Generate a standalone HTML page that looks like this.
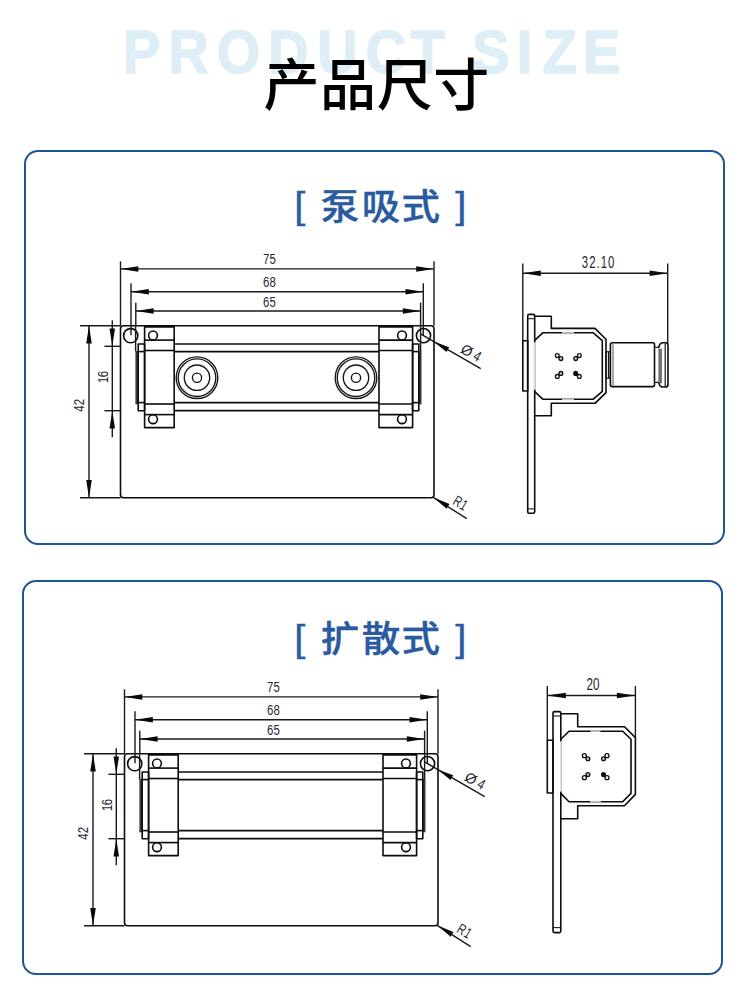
<!DOCTYPE html>
<html lang="zh-CN">
<head>
<meta charset="utf-8">
<title>产品尺寸 PRODUCT SIZE</title>
<style>
html,body{margin:0;padding:0;background:#fff;}
body{width:750px;height:996px;overflow:hidden;position:relative;font-family:"Liberation Sans","Noto Sans CJK SC",sans-serif;}
svg{position:absolute;left:0;top:0;display:block;}
.bg{font-family:"Liberation Sans",sans-serif;font-weight:700;fill:#ddeef6;stroke:#ddeef6;stroke-width:1.6px;}
.h1{font-family:"Liberation Sans","Noto Sans CJK SC",sans-serif;font-weight:500;fill:#000;}
.h2{font-family:"Liberation Sans","Noto Sans CJK SC",sans-serif;font-weight:500;fill:#2a5a9f;stroke:#2a5a9f;stroke-width:0.35px;}
.panel{fill:#fff;stroke:#1e5399;stroke-width:2;}
.o{fill:none;stroke:#0c0c0c;stroke-width:1.6;stroke-linejoin:round;}
.o2{fill:none;stroke:#1c1c1c;stroke-width:1.1;}
.o3{fill:none;stroke:#141414;stroke-width:1.35;}
.o4{fill:none;stroke:#555;stroke-width:1;}
.o5{fill:none;stroke:#141414;stroke-width:1.2;}
.tp{fill:none;stroke:#383838;stroke-width:2.8;}
.gl{fill:none;stroke:#c4c4c4;stroke-width:1.7;}
.gl2{fill:none;stroke:#a8a8a8;stroke-width:1;}
.wl{fill:none;stroke:#fff;stroke-width:2.4;}
.d{fill:none;stroke:#1a1a1a;stroke-width:1.4;}
.a{fill:#0a0a0a;stroke:none;}
.p{fill:#fff;stroke:#0c0c0c;stroke-width:1.3;}
.pg{fill:#c8c8c8;stroke:#0c0c0c;stroke-width:1.3;}
.pf{fill:#0c0c0c;stroke:#0c0c0c;stroke-width:1.3;}
.t{font-family:"Liberation Sans",sans-serif;fill:#26262e;}
</style>
</head>
<body>
<svg width="750" height="996" viewBox="0 0 750 996">
<rect width="750" height="996" fill="#fff"/>
<g transform="scale(0.9,1)"><text class="bg" y="72.8" font-size="62" x="136.6 187.3 240.9 298.2 352.6 406.4 456.0 486.0 524.6 574.2 602.7 647.9">PRODUCT SIZE</text></g>
<text class="h1" x="263.5" y="105" font-size="56" letter-spacing="0.6">产品尺寸</text>
<rect class="panel" x="25" y="151" width="699" height="393" rx="13"/>
<rect class="panel" x="23" y="581" width="699" height="393" rx="13"/>
<g transform="scale(1.07,1)">
<text class="h2" y="219.7" font-size="36" x="275 285 299.7 338 375.3 412 425.5"><tspan font-size="37.5" dy="-1.3">[</tspan><tspan dy="1.3"> 泵吸式 </tspan><tspan font-size="37.5" dy="-1.3">]</tspan></text>
<text class="h2" y="651.9" font-size="36" x="275 285 299.7 338 375.3 412 425.5"><tspan font-size="37.5" dy="-1.3">[</tspan><tspan dy="1.3"> 扩散式 </tspan><tspan font-size="37.5" dy="-1.3">]</tspan></text>
</g>

<g transform="translate(0,0.3)">
<rect class="o" x="120.5" y="325.5" width="313.5" height="172.0" rx="3"/>
<line class="d" x1="120.5" y1="261.0" x2="120.5" y2="325.5"/>
<line class="d" x1="434.0" y1="261.0" x2="434.0" y2="325.5"/>
<line class="d" x1="120.5" y1="268.6" x2="434.0" y2="268.6"/>
<polygon class="a" points="120.5,268.6 138.3,271.4 138.3,265.9"/>
<polygon class="a" points="434.0,268.6 416.2,265.9 416.2,271.4"/>
<text class="t" transform="translate(269.4,264.1) scale(0.74,1)" font-size="15.4" letter-spacing="0" text-anchor="middle">75</text>
<line class="d" x1="131.0" y1="283.0" x2="131.0" y2="335.0"/>
<line class="d" x1="423.3" y1="283.0" x2="423.3" y2="335.0"/>
<line class="d" x1="131.0" y1="291.4" x2="423.3" y2="291.4"/>
<polygon class="a" points="131.0,291.4 148.8,294.1 148.8,288.6"/>
<polygon class="a" points="423.3,291.4 405.5,288.6 405.5,294.1"/>
<text class="t" transform="translate(269.4,286.8) scale(0.74,1)" font-size="15.4" letter-spacing="0" text-anchor="middle">68</text>
<line class="d" x1="135.8" y1="302.4" x2="135.8" y2="326.0"/>
<line class="d" x1="420.6" y1="302.4" x2="420.6" y2="326.0"/>
<line class="d" x1="135.8" y1="310.7" x2="420.6" y2="310.7"/>
<polygon class="a" points="135.8,310.7 153.6,313.4 153.6,307.9"/>
<polygon class="a" points="420.6,310.7 402.8,307.9 402.8,313.4"/>
<text class="t" transform="translate(269.4,306.2) scale(0.74,1)" font-size="15.4" letter-spacing="0" text-anchor="middle">65</text>
<line class="d" x1="80.0" y1="325.5" x2="120.5" y2="325.5"/>
<line class="d" x1="80.0" y1="497.5" x2="120.5" y2="497.5"/>
<line class="d" x1="89.0" y1="325.5" x2="89.0" y2="497.5"/>
<polygon class="a" points="89.0,325.5 86.2,343.3 91.8,343.3"/>
<polygon class="a" points="89.0,497.5 91.8,479.7 86.2,479.7"/>
<text class="t" transform="translate(84.3,405.0) rotate(-90) scale(0.74,1)" font-size="15.4" letter-spacing="0" text-anchor="middle">42</text>
<line class="d" x1="104.4" y1="346.0" x2="120.5" y2="346.0"/>
<line class="d" x1="104.4" y1="410.4" x2="120.5" y2="410.4"/>
<line class="d" x1="112.3" y1="320.0" x2="112.3" y2="437.0"/>
<polygon class="a" points="112.3,346.0 115.0,328.2 109.5,328.2"/>
<polygon class="a" points="112.3,410.4 109.5,428.2 115.0,428.2"/>
<text class="t" transform="translate(107.9,377.0) rotate(-90) scale(0.74,1)" font-size="15.4" letter-spacing="-0.7" text-anchor="middle">16</text>
<circle class="o" cx="130.7" cy="335.4" r="7.1"/>
<circle class="o" cx="423.5" cy="335.3" r="7.1"/>
<line class="d" x1="135.6" y1="326.0" x2="135.6" y2="351.0"/>
<line class="tp" x1="136.8" y1="350.6" x2="136.8" y2="404.0"/>
<line class="d" x1="420.6" y1="326.0" x2="420.6" y2="351.0"/>
<line class="tp" x1="420.1" y1="350.6" x2="420.1" y2="404.0"/>
<rect class="o" x="138.2" y="343.7" width="6.4" height="66.8"/>
<line class="o" x1="138.2" y1="351.3" x2="144.6" y2="351.3"/>
<line class="o" x1="138.2" y1="402.3" x2="144.6" y2="402.3"/>
<rect class="o" x="412.6" y="343.7" width="6.2" height="66.8"/>
<line class="o" x1="412.6" y1="351.3" x2="418.8" y2="351.3"/>
<line class="o" x1="412.6" y1="402.3" x2="418.8" y2="402.3"/>
<line class="o" x1="174.0" y1="343.7" x2="379.0" y2="343.7"/>
<line class="o" x1="174.0" y1="351.3" x2="379.0" y2="351.3"/>
<line class="o" x1="174.0" y1="402.3" x2="379.0" y2="402.3"/>
<line class="o" x1="174.0" y1="410.3" x2="379.0" y2="410.3"/>
<rect class="o" x="144.6" y="326.6" width="29.6" height="100.7"/>
<line class="o" x1="144.6" y1="339.8" x2="174.2" y2="339.8"/>
<line class="o" x1="144.6" y1="350.2" x2="174.2" y2="350.2"/>
<line class="o" x1="144.6" y1="403.7" x2="174.2" y2="403.7"/>
<line class="o" x1="144.6" y1="414.3" x2="174.2" y2="414.3"/>
<circle class="o" cx="153.0" cy="335.1" r="4.4"/>
<circle class="o" cx="153.0" cy="418.9" r="4.4"/>
<rect class="o" x="379.0" y="326.6" width="33.6" height="100.7"/>
<line class="o" x1="379.0" y1="339.8" x2="412.6" y2="339.8"/>
<line class="o" x1="379.0" y1="350.2" x2="412.6" y2="350.2"/>
<line class="o" x1="379.0" y1="403.7" x2="412.6" y2="403.7"/>
<line class="o" x1="379.0" y1="414.3" x2="412.6" y2="414.3"/>
<circle class="o" cx="402.0" cy="335.1" r="4.4"/>
<circle class="o" cx="402.0" cy="418.9" r="4.4"/>
<circle class="o3" cx="197.0" cy="377.4" r="20.8"/>
<circle class="o3" cx="197.0" cy="377.4" r="18.8"/>
<circle class="o3" cx="197.0" cy="377.4" r="12.7"/>
<circle class="o3" cx="197.0" cy="377.4" r="4.6"/>
<circle class="o3" cx="356.0" cy="377.4" r="20.8"/>
<circle class="o3" cx="356.0" cy="377.4" r="18.8"/>
<circle class="o3" cx="356.0" cy="377.4" r="12.7"/>
<circle class="o3" cx="356.0" cy="377.4" r="4.6"/>
<line class="d" x1="420.5" y1="333.5" x2="480.7" y2="368.3"/>
<polygon class="a" points="433.6,341.1 446.5,351.7 449.2,347.0"/>
<text class="t" transform="translate(464.4,354.4) rotate(30) scale(1.0,1)" font-size="14.5" letter-spacing="0" text-anchor="middle">Ø</text>
<text class="t" transform="translate(474.7,360.2) rotate(30) scale(0.78,1)" font-size="15" letter-spacing="0" text-anchor="middle">4</text>
<line class="d" x1="432.5" y1="496.5" x2="466.7" y2="518.4"/>
<polygon class="a" points="433.5,497.2 446.6,508.4 449.5,503.6"/>
<text class="t" transform="translate(458.0,507.2) rotate(31) scale(0.72,1)" font-size="15" letter-spacing="0.5" text-anchor="middle">R1</text>
</g>
<line class="d" x1="522.8" y1="263.6" x2="522.8" y2="341.0"/>
<line class="d" x1="667.7" y1="263.6" x2="667.7" y2="344.0"/>
<line class="d" x1="522.8" y1="273.2" x2="667.7" y2="273.2"/>
<polygon class="a" points="522.8,273.2 540.8,275.9 540.8,270.4"/>
<polygon class="a" points="667.7,273.2 649.7,270.4 649.7,275.9"/>
<text class="t" transform="translate(598.6,268.0) scale(0.69,1)" font-size="16.5" letter-spacing="1.5" text-anchor="middle">32.10</text>
<rect class="o" x="522.8" y="340.7" width="4.9" height="50.3"/>
<rect class="o" x="527.7" y="314.4" width="7.0" height="198.9" rx="1.5"/>
<line class="o2" x1="527.7" y1="318.7" x2="534.7" y2="318.7"/>
<line class="o2" x1="527.7" y1="508.9" x2="534.7" y2="508.9"/>
<polyline class="o" points="534.7,316.3 551.3,316.3 551.3,328.4 595.0,328.4 606.0,339.3 606.0,392.7 595.0,403.3 551.3,403.3 551.3,415.7 534.7,415.7"/>
<polyline class="o" points="534.7,340.3 543.0,332.7 593.0,332.7 602.3,340.7 602.3,391.3 593.0,399.3 543.0,399.3 534.7,391.7"/>
<circle class="pg" cx="560.9" cy="358.6" r="1.9"/>
<circle class="p" cx="557.3" cy="355.6" r="1.9"/>
<circle class="pg" cx="575.7" cy="358.6" r="1.9"/>
<circle class="p" cx="579.3" cy="355.6" r="1.9"/>
<circle class="pg" cx="560.9" cy="373.4" r="1.9"/>
<circle class="p" cx="557.3" cy="376.4" r="1.9"/>
<circle class="pf" cx="575.7" cy="373.4" r="1.9"/>
<circle class="p" cx="579.3" cy="376.4" r="1.9"/>
<line class="gl" x1="562.0" y1="332.7" x2="574.0" y2="332.7"/>
<line class="gl" x1="562.0" y1="399.3" x2="574.0" y2="399.3"/>
<line class="wl" x1="534.7" y1="342.5" x2="534.7" y2="389.5"/>
<line class="gl2" x1="535.1" y1="342.0" x2="535.1" y2="390.0"/>
<rect class="o5" x="606" y="351.7" width="4.4" height="26.5"/>
<line class="o5" x1="608.5" y1="352.0" x2="608.5" y2="378.0"/>
<rect class="o" x="610.4" y="342.8" width="44.1" height="43.8" rx="1.8"/>
<line class="o4" x1="613.0" y1="344.0" x2="613.0" y2="385.4"/>
<line class="o5" x1="654.5" y1="347.3" x2="659.5" y2="347.3"/>
<line class="o5" x1="654.5" y1="382.4" x2="659.5" y2="382.4"/>
<rect x="658.4" y="348.6" width="3.5" height="34.8" fill="#6e6e6e"/>
<path class="o" d="M661.8,342.8 L665.4,342.8 Q668,342.8 668,345.4 L668,384.4 Q668,387 665.4,387 L661.8,387 Q659.2,385.6 658.6,382.6 M658.6,347.4 Q659.2,344.2 661.8,342.8"/>
<line class="o5" x1="665.2" y1="343.6" x2="665.2" y2="386.2"/>
<g transform="translate(4,428.3)">
<rect class="o" x="120.5" y="325.5" width="313.5" height="172.0" rx="3"/>
<line class="d" x1="120.5" y1="261.0" x2="120.5" y2="325.5"/>
<line class="d" x1="434.0" y1="261.0" x2="434.0" y2="325.5"/>
<line class="d" x1="120.5" y1="268.6" x2="434.0" y2="268.6"/>
<polygon class="a" points="120.5,268.6 138.3,271.4 138.3,265.9"/>
<polygon class="a" points="434.0,268.6 416.2,265.9 416.2,271.4"/>
<text class="t" transform="translate(269.4,264.1) scale(0.74,1)" font-size="15.4" letter-spacing="0" text-anchor="middle">75</text>
<line class="d" x1="131.0" y1="283.0" x2="131.0" y2="335.0"/>
<line class="d" x1="423.3" y1="283.0" x2="423.3" y2="335.0"/>
<line class="d" x1="131.0" y1="291.4" x2="423.3" y2="291.4"/>
<polygon class="a" points="131.0,291.4 148.8,294.1 148.8,288.6"/>
<polygon class="a" points="423.3,291.4 405.5,288.6 405.5,294.1"/>
<text class="t" transform="translate(269.4,286.8) scale(0.74,1)" font-size="15.4" letter-spacing="0" text-anchor="middle">68</text>
<line class="d" x1="135.8" y1="302.4" x2="135.8" y2="326.0"/>
<line class="d" x1="420.6" y1="302.4" x2="420.6" y2="326.0"/>
<line class="d" x1="135.8" y1="310.7" x2="420.6" y2="310.7"/>
<polygon class="a" points="135.8,310.7 153.6,313.4 153.6,307.9"/>
<polygon class="a" points="420.6,310.7 402.8,307.9 402.8,313.4"/>
<text class="t" transform="translate(269.4,306.2) scale(0.74,1)" font-size="15.4" letter-spacing="0" text-anchor="middle">65</text>
<line class="d" x1="80.0" y1="325.5" x2="120.5" y2="325.5"/>
<line class="d" x1="80.0" y1="497.5" x2="120.5" y2="497.5"/>
<line class="d" x1="89.0" y1="325.5" x2="89.0" y2="497.5"/>
<polygon class="a" points="89.0,325.5 86.2,343.3 91.8,343.3"/>
<polygon class="a" points="89.0,497.5 91.8,479.7 86.2,479.7"/>
<text class="t" transform="translate(84.3,405.0) rotate(-90) scale(0.74,1)" font-size="15.4" letter-spacing="0" text-anchor="middle">42</text>
<line class="d" x1="104.4" y1="346.0" x2="120.5" y2="346.0"/>
<line class="d" x1="104.4" y1="410.4" x2="120.5" y2="410.4"/>
<line class="d" x1="112.3" y1="320.0" x2="112.3" y2="437.0"/>
<polygon class="a" points="112.3,346.0 115.0,328.2 109.5,328.2"/>
<polygon class="a" points="112.3,410.4 109.5,428.2 115.0,428.2"/>
<text class="t" transform="translate(107.9,377.0) rotate(-90) scale(0.74,1)" font-size="15.4" letter-spacing="-0.7" text-anchor="middle">16</text>
<circle class="o" cx="130.7" cy="335.4" r="7.1"/>
<circle class="o" cx="423.5" cy="335.3" r="7.1"/>
<line class="d" x1="135.6" y1="326.0" x2="135.6" y2="351.0"/>
<line class="tp" x1="136.8" y1="350.6" x2="136.8" y2="404.0"/>
<line class="d" x1="420.6" y1="326.0" x2="420.6" y2="351.0"/>
<line class="tp" x1="420.1" y1="350.6" x2="420.1" y2="404.0"/>
<rect class="o" x="138.2" y="343.7" width="6.4" height="66.8"/>
<line class="o" x1="138.2" y1="351.3" x2="144.6" y2="351.3"/>
<line class="o" x1="138.2" y1="402.3" x2="144.6" y2="402.3"/>
<rect class="o" x="412.6" y="343.7" width="6.2" height="66.8"/>
<line class="o" x1="412.6" y1="351.3" x2="418.8" y2="351.3"/>
<line class="o" x1="412.6" y1="402.3" x2="418.8" y2="402.3"/>
<line class="o" x1="174.0" y1="343.7" x2="379.0" y2="343.7"/>
<line class="o" x1="174.0" y1="351.3" x2="379.0" y2="351.3"/>
<line class="o" x1="174.0" y1="402.3" x2="379.0" y2="402.3"/>
<line class="o" x1="174.0" y1="410.3" x2="379.0" y2="410.3"/>
<rect class="o" x="144.6" y="326.6" width="29.6" height="100.7"/>
<line class="o" x1="144.6" y1="339.8" x2="174.2" y2="339.8"/>
<line class="o" x1="144.6" y1="350.2" x2="174.2" y2="350.2"/>
<line class="o" x1="144.6" y1="403.7" x2="174.2" y2="403.7"/>
<line class="o" x1="144.6" y1="414.3" x2="174.2" y2="414.3"/>
<circle class="o" cx="153.0" cy="335.1" r="4.4"/>
<circle class="o" cx="153.0" cy="418.9" r="4.4"/>
<rect class="o" x="379.0" y="326.6" width="33.6" height="100.7"/>
<line class="o" x1="379.0" y1="339.8" x2="412.6" y2="339.8"/>
<line class="o" x1="379.0" y1="350.2" x2="412.6" y2="350.2"/>
<line class="o" x1="379.0" y1="403.7" x2="412.6" y2="403.7"/>
<line class="o" x1="379.0" y1="414.3" x2="412.6" y2="414.3"/>
<circle class="o" cx="402.0" cy="335.1" r="4.4"/>
<circle class="o" cx="402.0" cy="418.9" r="4.4"/>
<line class="d" x1="420.5" y1="333.5" x2="480.7" y2="368.3"/>
<polygon class="a" points="433.6,341.1 446.5,351.7 449.2,347.0"/>
<text class="t" transform="translate(464.4,354.4) rotate(30) scale(1.0,1)" font-size="14.5" letter-spacing="0" text-anchor="middle">Ø</text>
<text class="t" transform="translate(474.7,360.2) rotate(30) scale(0.78,1)" font-size="15" letter-spacing="0" text-anchor="middle">4</text>
<line class="d" x1="432.5" y1="496.5" x2="466.7" y2="518.4"/>
<polygon class="a" points="433.5,497.2 446.6,508.4 449.5,503.6"/>
<text class="t" transform="translate(458.0,507.2) rotate(31) scale(0.72,1)" font-size="15" letter-spacing="0.5" text-anchor="middle">R1</text>
</g>
<line class="d" x1="547.3" y1="686.0" x2="547.3" y2="740.2"/>
<line class="d" x1="635.4" y1="686.0" x2="635.4" y2="738.0"/>
<line class="d" x1="547.3" y1="695.5" x2="635.4" y2="695.5"/>
<polygon class="a" points="547.3,695.5 565.8,698.2 565.8,692.8"/>
<polygon class="a" points="635.4,695.5 616.9,692.8 616.9,698.2"/>
<text class="t" transform="translate(593.0,690.0) scale(0.72,1)" font-size="16.2" letter-spacing="0" text-anchor="middle">20</text>
<rect class="o" x="547.3" y="740.2" width="5.7" height="52.8"/>
<rect class="o" x="553.0" y="711.6" width="7.8" height="221.0" rx="1.5"/>
<line class="o2" x1="553.0" y1="716.0" x2="560.8" y2="716.0"/>
<line class="o2" x1="553.0" y1="927.6" x2="560.8" y2="927.6"/>
<polyline class="o" points="560.8,713.8 577.7,713.8 577.7,726.7 624.5,726.7 635.4,737.6 635.4,794.4 624.5,805.7 577.7,805.7 577.7,818.7 560.8,818.7"/>
<polyline class="o" points="560.8,739.3 569.0,731.2 622.7,731.2 631.0,739.3 631.0,793.4 622.7,801.7 569.0,801.7 560.8,793.4"/>
<circle class="pg" cx="587.9" cy="758.8" r="1.9"/>
<circle class="p" cx="584.4" cy="755.7" r="2.0"/>
<circle class="pg" cx="603.5" cy="758.8" r="1.9"/>
<circle class="p" cx="607.0" cy="755.7" r="2.0"/>
<circle class="pg" cx="587.9" cy="774.6" r="1.9"/>
<circle class="p" cx="584.4" cy="777.7" r="2.0"/>
<circle class="pf" cx="603.5" cy="774.6" r="1.9"/>
<circle class="p" cx="607.0" cy="777.7" r="2.0"/>
<line class="gl" x1="590.5" y1="731.2" x2="600.5" y2="731.2"/>
<line class="gl" x1="590.0" y1="801.7" x2="601.0" y2="801.7"/>
<line class="wl" x1="560.8" y1="741.5" x2="560.8" y2="791.5"/>
<line class="gl2" x1="561.2" y1="741.0" x2="561.2" y2="792.0"/>
</svg>
</body>
</html>
